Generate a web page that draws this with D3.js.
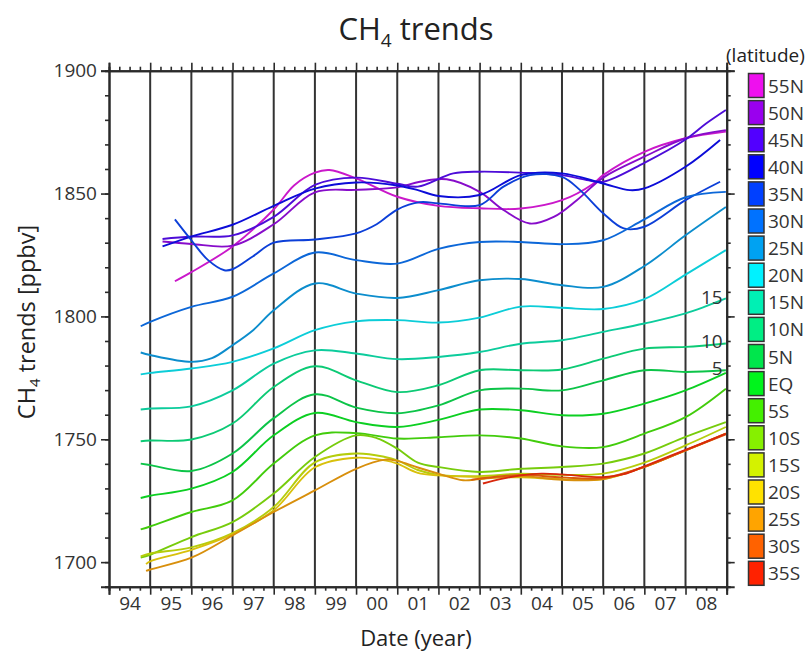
<!DOCTYPE html>
<html>
<head>
<meta charset="utf-8">
<script src="https://cdn.jsdelivr.net/npm/d3@7"></script>
<style>
  html, body { margin: 0; padding: 0; background: #fff; }
  svg { display: block; font-family: "Open Sans", "Noto Sans", sans-serif; }
</style>
</head>
<body>
<svg id="chart" width="809" height="655"></svg>
<script>
// ---------------- DATA ----------------
const latitudes = ["55N","50N","45N","40N","35N","30N","25N","20N","15N","10N","5N","EQ","5S","10S","15S","20S","25S","30S","35S"];
const legendColors = ["#ee10ee","#9a00ee","#5200ff","#0000ff","#0040ff","#0072ff","#00a2f2","#00f2ff","#00f0b4","#00ee84","#00e64c","#00f41c","#44f000","#86f000","#d4f200","#ffe200","#ffa400","#ff6200","#ff2200"];
const xTickLabels = ["94","95","96","97","98","99","00","01","02","03","04","05","06","07","08"];
const lineLabels = ["15","10","5"];
const lineLabelValues = [1805.2, 1787.0, 1776.0];

// [decimal year, CH4 ppbv]
const s55N = [[1995.6,1814.3],[1996,1818],[1997,1828.5],[1998,1843.5],[1998.5,1853.4],[1999,1858.5],[1999.35,1859.6],[2000,1856.2],[2001,1848.7],[2002,1845],[2003,1844],[2004,1843.9],[2005,1847.3],[2005.76,1854],[2006,1857.5],[2007,1867],[2008,1872.5],[2008.98,1875.2]];
const s50N = [[1995.3,1830.5],[1996,1829.5],[1997,1828.8],[1998,1837.5],[1999,1850.5],[2000,1851.5],[2001,1852.5],[2001.55,1854.8],[2002.2,1855.8],[2003,1850.7],[2003.58,1843.3],[2004.22,1837.8],[2004.8,1840.5],[2005.36,1847.3],[2006,1856.5],[2007,1865],[2008,1872.5],[2008.98,1875.8]];
const s45N = [[1995.3,1831.5],[1996,1832.5],[1997,1833],[1998,1840.5],[1999,1853.5],[2000,1856.5],[2001,1854],[2001.5,1852.8],[2002.36,1858.2],[2003,1858.9],[2004,1858.5],[2005,1857.5],[2005.6,1855.5],[2006,1854.8],[2007,1862.5],[2008,1872],[2008.5,1878.5],[2008.98,1884]];
const s40N = [[1995.3,1828.5],[1996,1832.5],[1997,1837.3],[1998,1845],[1999,1852],[2000,1854.5],[2001,1853.3],[2001.5,1851.4],[2002,1849],[2003,1849.4],[2004,1857.5],[2005,1858.2],[2006,1854.1],[2006.65,1851.4],[2007,1852.1],[2008,1860.9],[2008.84,1871.8]];
const s35N = [[1995.6,1839.5],[1996,1831],[1996.4,1823],[1996.8,1818.8],[1997,1819.2],[1997.5,1824.5],[1998,1830],[1999,1831.3],[2000,1833.8],[2000.5,1837.5],[2001,1843.5],[2001.55,1846.5],[2002,1846],[2003,1845.3],[2003.58,1852.8],[2004.22,1857.5],[2005,1856.8],[2005.44,1851.4],[2006,1842],[2006.5,1835.8],[2007,1836.5],[2008,1847.3],[2008.84,1854.8]];
const s30N = [[1994.77,1796],[1995,1797.8],[1996,1803.9],[1997,1808],[1998,1817.5],[1999,1826],[2000,1822.9],[2001,1821.5],[2002,1827.5],[2003,1830.3],[2004,1830.3],[2005,1829.4],[2006,1831],[2007,1839.5],[2008,1848.5],[2008.98,1850.7]];
const s25N = [[1994.77,1785.3],[1995,1784.3],[1996,1781.5],[1996.5,1783],[1997,1788.3],[1997.5,1794.4],[1998,1802.5],[1999,1813.4],[2000,1809.3],[2001,1807.5],[2002,1810.7],[2003,1814.7],[2004,1815.2],[2005,1812.7],[2006,1812],[2007,1820.5],[2008,1833],[2008.98,1844.5]];
const s20N = [[1994.77,1776.4],[1995,1777],[1996,1778.8],[1997,1781.5],[1998,1787],[1999,1794.4],[2000,1798],[2001,1798.5],[2002,1797.5],[2003,1799.5],[2004,1804],[2005,1803.5],[2006,1803],[2007,1807],[2008,1817],[2008.98,1827]];
const s15N = [[1994.77,1762.1],[1995,1762.5],[1996,1763.4],[1997,1769.9],[1998,1780.8],[1999,1786.2],[2000,1784.9],[2001,1782.6],[2002,1783.5],[2003,1785.5],[2004,1788.9],[2005,1790.3],[2006,1793.7],[2007,1797.1],[2008,1801.2],[2008.98,1807.3]];
const s10N = [[1994.77,1749.2],[1995,1749.5],[1996,1749.9],[1997,1756.4],[1998,1771.3],[1999,1779.7],[2000,1774],[2001,1769.2],[2002,1772],[2003,1778.1],[2004,1778.1],[2005,1778.4],[2006,1782.8],[2007,1786.9],[2008,1787.6],[2008.98,1789]];
const s5N = [[1994.77,1740.1],[1995,1739.5],[1996,1737.1],[1997,1744.2],[1998,1758.6],[1999,1768.3],[2000,1762.9],[2001,1760.6],[2002,1763.8],[2003,1769.9],[2004,1770.6],[2005,1769.9],[2006,1774],[2007,1778.1],[2008,1777.4],[2008.98,1778.1]];
const sEQ = [[1994.77,1726.1],[1995,1727],[1996,1729.9],[1997,1736.7],[1998,1751.6],[1999,1760.7],[2000,1757],[2001,1755],[2002,1757.9],[2003,1762.1],[2004,1761.8],[2005,1759.8],[2006,1760.4],[2007,1764.5],[2008,1769.9],[2008.98,1777]];
const s5S = [[1994.77,1713.3],[1995,1714.5],[1996,1720.4],[1997,1725.1],[1998,1740.1],[1999,1751.6],[2000,1752.5],[2001,1750.3],[2002,1750.8],[2003,1751.6],[2004,1750.3],[2005,1747.1],[2006,1746.8],[2007,1752.3],[2008,1759],[2008.98,1770.6]];
const s10S = [[1994.77,1701.8],[1995,1703],[1996,1710.2],[1997,1716.3],[1998,1727.9],[1999,1742.8],[2000,1751.6],[2000.5,1750.5],[2001,1746.2],[2001.5,1740.5],[2002,1738.7],[2003,1736.7],[2004,1738],[2005,1738.7],[2006,1740.1],[2007,1744.2],[2008,1751],[2008.98,1757]];
const s15S = [[1994.77,1702.3],[1995,1703.5],[1996,1706],[1997,1711.8],[1998,1722.4],[1999,1740.6],[2000,1744.2],[2000.7,1742.8],[2001,1741.4],[2001.5,1737.5],[2002,1735.5],[2003,1735],[2004,1736],[2005,1735.5],[2006,1736],[2007,1740.5],[2008,1747.5],[2008.98,1755]];
const s20S = [[1994.9,1699.2],[1995,1700.3],[1996,1705],[1997,1711.4],[1998,1721.1],[1999,1738.6],[2000,1742.5],[2000.7,1741.4],[2001,1740.1],[2001.5,1736.3],[2002,1735.3],[2003,1734.6],[2004,1734.5],[2005,1733.8],[2006,1733.8],[2007,1738.8],[2008,1745.5],[2008.98,1752.3]];
const s25S = [[1994.9,1696.4],[1995,1697],[1996,1701.8],[1997,1710.9],[1998,1720.4],[1999,1729.2],[2000,1738],[2000.7,1741.7],[2001,1741.2],[2001.5,1738.5],[2002,1736],[2002.6,1733.3],[2003,1733.8],[2004,1735],[2005,1733.5],[2006,1733.8],[2007,1738.7],[2008,1745.5],[2008.98,1752.3]];
const s30S = [[2002.8,1733.5],[2003,1734],[2004,1735.5],[2005,1734.5],[2006,1734.2],[2007,1738.8],[2008,1745.5],[2008.98,1752]];
const s35S = [[2003.08,1732],[2003.5,1733.8],[2004,1735.3],[2004.5,1736],[2005,1735.7],[2006,1734.6],[2006.5,1735.8],[2007,1739],[2008,1745.7],[2008.98,1752.3]];

const seriesValues = [s55N,s50N,s45N,s40N,s35N,s30N,s25N,s20N,s15N,s10N,s5N,sEQ,s5S,s10S,s15S,s20S,s25S,s30S,s35S];

// ---------------- CHART ----------------
const svg = d3.select("#chart");
const L = 109, R = 726.7, T = 70.7, B = 586.7;
const x = d3.scaleLinear().domain([1994, 2009]).range([L, R]);
const y = d3.scaleLinear().domain([1690, 1900]).range([B, T]);
const axisColor = "#2a2a2a";

// vertical year grid lines
const years = d3.range(1995, 2009);
svg.append("g").selectAll("line").data(years).join("line")
  .attr("x1", d => x(d)).attr("x2", d => x(d))
  .attr("y1", T).attr("y2", B)
  .attr("stroke", "#333").attr("stroke-width", 2);

// data lines
const lineGen = d3.line().x(d => x(d[0])).y(d => y(d[1])).curve(d3.curveCatmullRom.alpha(0.5));
const lineColor = c => d3.interpolateRgb(c, "#3a3a3a")(0.2);
svg.append("g").selectAll("path").data(seriesValues).join("path")
  .attr("d", lineGen)
  .attr("fill", "none")
  .attr("stroke", (d, i) => lineColor(legendColors[i]))
  .attr("stroke-width", 1.9)
  .attr("stroke-linejoin", "round");

// axes helper
function styleAxis(g) {
  g.select(".domain").attr("stroke", axisColor).attr("stroke-width", 2);
  g.selectAll(".tick line").attr("stroke", axisColor).attr("stroke-width", 1.6);
  g.selectAll("text").attr("fill", "#333").style("font-size", "19px")
    .style("font-family", '"Open Sans", "Noto Sans", sans-serif');
}
const quarters = d3.range(1994, 2009.001, 0.25).filter(v => Math.abs(v - Math.round(v)) > 1e-6);
const yearTicks = d3.range(1994, 2010);
const yMinor = d3.range(1690, 1901, 10);
const yMajor = [1700, 1750, 1800, 1850, 1900];

// bottom
svg.append("g").attr("transform", `translate(0,${B})`)
  .call(d3.axisBottom(x).tickValues(quarters).tickSize(4).tickFormat("")).call(styleAxis);
svg.append("g").attr("transform", `translate(0,${B})`)
  .call(d3.axisBottom(x).tickValues(yearTicks).tickSize(8).tickFormat("")).call(styleAxis);
svg.append("g").attr("transform", `translate(0,${B})`)
  .call(d3.axisBottom(x).tickValues(d3.range(1994.5, 2009, 1)).tickSize(0).tickPadding(10)
        .tickFormat((d, i) => xTickLabels[i])).call(styleAxis)
  .call(g => g.select(".domain").remove());
// top
svg.append("g").attr("transform", `translate(0,${T})`)
  .call(d3.axisTop(x).tickValues(quarters).tickSize(4).tickFormat("")).call(styleAxis);
svg.append("g").attr("transform", `translate(0,${T})`)
  .call(d3.axisTop(x).tickValues(yearTicks).tickSize(8).tickFormat("")).call(styleAxis);
// left
svg.append("g").attr("transform", `translate(${L},0)`)
  .call(d3.axisLeft(y).tickValues(yMinor).tickSize(4).tickFormat("")).call(styleAxis);
svg.append("g").attr("transform", `translate(${L},0)`)
  .call(d3.axisLeft(y).tickValues(yMajor).tickSize(8).tickPadding(4).tickFormat(d3.format("d"))).call(styleAxis);
// right
svg.append("g").attr("transform", `translate(${R},0)`)
  .call(d3.axisRight(y).tickValues(yMinor).tickSize(4).tickFormat("")).call(styleAxis);
svg.append("g").attr("transform", `translate(${R},0)`)
  .call(d3.axisRight(y).tickValues(yMajor).tickSize(8).tickFormat("")).call(styleAxis);

// line end labels
svg.append("g").selectAll("text").data(lineLabels).join("text")
  .attr("x", R - 4).attr("y", (d, i) => y(lineLabelValues[i]))
  .attr("text-anchor", "end").attr("fill", "#333")
  .style("font-size", "19px").text(d => d);

// title
const title = svg.append("text").attr("x", 416).attr("y", 40).attr("text-anchor", "middle")
  .attr("fill", "#222").style("font-size", "31px");
title.append("tspan").text("CH");
title.append("tspan").attr("dy", 7).style("font-size", "19px").text("4");
title.append("tspan").attr("dy", -7).text(" trends");

// y label
const ylab = svg.append("text").attr("transform", "translate(35,322) rotate(-90)")
  .attr("text-anchor", "middle").attr("fill", "#222").style("font-size", "23.5px");
ylab.append("tspan").text("CH");
ylab.append("tspan").attr("dy", 5).style("font-size", "15px").text("4");
ylab.append("tspan").attr("dy", -5).text(" trends [ppbv]");

// x label
svg.append("text").attr("x", 416).attr("y", 646).attr("text-anchor", "middle")
  .attr("fill", "#222").style("font-size", "22px").text("Date (year)");

// legend
svg.append("text").attr("x", 726).attr("y", 62).attr("fill", "#222")
  .style("font-size", "19px").text("(latitude)");
const lg = svg.append("g");
const step = 27.1, top0 = 73.5;
lg.selectAll("rect").data(latitudes).join("rect")
  .attr("x", 748.5).attr("y", (d, i) => top0 + i * step)
  .attr("width", 15.5).attr("height", 24)
  .attr("fill", (d, i) => legendColors[i])
  .attr("stroke", "#333").attr("stroke-width", 1.5);
lg.selectAll("text").data(latitudes).join("text")
  .attr("x", 768).attr("y", (d, i) => top0 + i * step + 19)
  .attr("fill", "#333").style("font-size", "19px").text(d => d);
</script>
</body>
</html>
